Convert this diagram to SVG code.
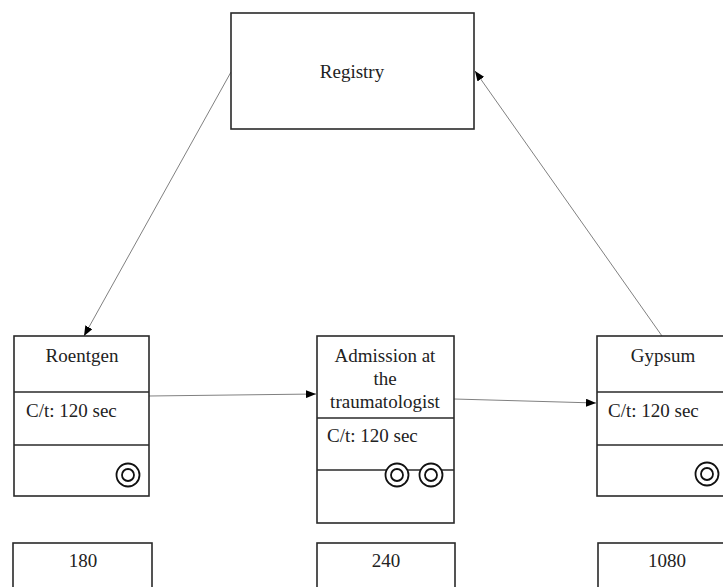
<svg xmlns="http://www.w3.org/2000/svg" width="723" height="587" viewBox="0 0 723 587">
  <style>
    .box { fill: #ffffff; stroke: #2a2a2a; stroke-width: 1.6; }
    .div { fill: none; stroke: #2a2a2a; stroke-width: 1.6; }
    .lbl { font-family: "Liberation Serif", "Times New Roman", serif; font-size: 19px; fill: #222222; }
    .mid { text-anchor: middle; }
    .conn { fill: none; stroke: #808080; stroke-width: 1; }
    .ring { fill: #ffffff; stroke: #111111; stroke-width: 1.8; }
  </style>
  <defs>
    <marker id="arrow" viewBox="0 0 10 8" refX="10" refY="4" markerWidth="10" markerHeight="8" markerUnits="userSpaceOnUse" orient="auto">
      <path d="M0,0 L10,4 L0,8 Z" fill="#000000"/>
    </marker>
    <g id="inventory">
      <circle class="ring" r="11.5"/>
      <circle class="ring" r="6"/>
    </g>
  </defs>

  <rect width="723" height="587" fill="#ffffff"/>

  <!-- process flow connectors -->
  <g id="connectors">
    <line class="conn" x1="231" y1="72" x2="84" y2="336" marker-end="url(#arrow)"/>
    <line class="conn" x1="149" y1="396" x2="316" y2="394" marker-end="url(#arrow)"/>
    <line class="conn" x1="454" y1="399" x2="596" y2="403" marker-end="url(#arrow)"/>
    <line class="conn" x1="662" y1="336" x2="475" y2="71" marker-end="url(#arrow)"/>
  </g>

  <g id="registry">
    <rect class="box" x="231" y="13" width="243" height="116"/>
    <text class="lbl mid" x="352" y="78">Registry</text>
  </g>

  <g id="roentgen">
    <rect class="box" x="14" y="336" width="135" height="160"/>
    <line class="div" x1="14" y1="392" x2="149" y2="392"/>
    <line class="div" x1="14" y1="445" x2="149" y2="445"/>
    <text class="lbl mid" x="82" y="362">Roentgen</text>
    <text class="lbl" x="26" y="417">C/t: 120 sec</text>
    <use href="#inventory" x="128" y="475"/>
  </g>

  <g id="admission">
    <rect class="box" x="317" y="336" width="137" height="187"/>
    <line class="div" x1="317" y1="418" x2="454" y2="418"/>
    <line class="div" x1="317" y1="470" x2="454" y2="470"/>
    <text class="lbl mid" x="385" y="362">Admission at</text>
    <text class="lbl mid" x="385" y="385">the</text>
    <text class="lbl mid" x="385" y="408">traumatologist</text>
    <text class="lbl" x="327" y="442">C/t: 120 sec</text>
    <use href="#inventory" x="397" y="475"/>
    <use href="#inventory" x="431" y="475"/>
  </g>

  <g id="gypsum">
    <rect class="box" x="597" y="336" width="140" height="160"/>
    <line class="div" x1="597" y1="392" x2="737" y2="392"/>
    <line class="div" x1="597" y1="445" x2="737" y2="445"/>
    <text class="lbl mid" x="663" y="362">Gypsum</text>
    <text class="lbl" x="608" y="417">C/t: 120 sec</text>
    <use href="#inventory" x="707" y="474"/>
  </g>

  <g id="time-roentgen">
    <rect class="box" x="13" y="543" width="139" height="60"/>
    <text class="lbl mid" x="83" y="567">180</text>
  </g>

  <g id="time-admission">
    <rect class="box" x="317" y="543" width="138" height="60"/>
    <text class="lbl mid" x="386" y="567">240</text>
  </g>

  <g id="time-gypsum">
    <rect class="box" x="598" y="543" width="140" height="60"/>
    <text class="lbl mid" x="667" y="567">1080</text>
  </g>
</svg>
